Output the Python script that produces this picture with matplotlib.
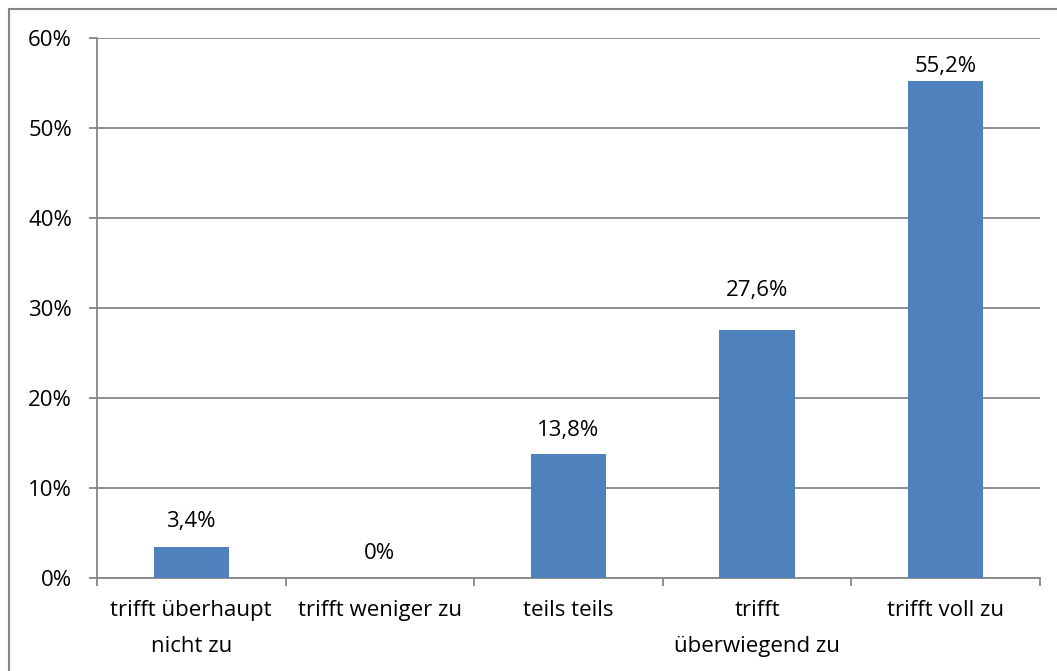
import matplotlib.pyplot as plt
from matplotlib.lines import Line2D
import numpy as np

categories = ['trifft überhaupt\nnicht zu', 'trifft weniger zu', 'teils teils',
              'trifft\nüberwiegend zu', 'trifft voll zu']
values = [3.4, 0.0, 13.8, 27.6, 55.2]
labels = ['3,4%', '0%', '13,8%', '27,6%', '55,2%']
yticks = [0, 10, 20, 30, 40, 50, 60]

plt.rcParams['font.family'] = ['Open Sans', 'DejaVu Sans']
grey = '#868686'
fs = 16

fig = plt.figure(figsize=(10.57, 6.71), dpi=100)
ax = fig.add_axes([97 / 1057, 1 - 578 / 671, (1040 - 97) / 1057, 540 / 671])

x = np.arange(len(categories))
ax.bar(x, values, width=0.4, color='#4F81BD', zorder=3)

# labels were nudged by hand in the original, so the gaps differ a bit
label_gap = [20, 19, 18, 34, 9]
for xi, v, lab, gap in zip(x, values, labels, label_gap):
    ax.annotate(lab, (xi, v), xytext=(0, gap), textcoords='offset pixels',
                ha='center', va='baseline', fontsize=fs)

ax.set_xlim(-0.5, len(categories) - 0.5)
ax.set_ylim(0, 60)
ax.set_yticks(yticks)
ax.set_yticklabels([f'{t}%' for t in yticks], fontsize=fs)
ax.yaxis.grid(True, color=grey, linewidth=1.3, zorder=0)
ax.tick_params(axis='y', length=6, width=1.3, color=grey, pad=12)

ax.set_xticks(np.arange(-0.5, len(categories)), minor=False)
ax.set_xticklabels([])
ax.set_xticks(x, minor=True)
ax.set_xticklabels(categories, minor=True, fontsize=fs, linespacing=1.9)
ax.tick_params(axis='x', which='major', length=6, width=1.3, color=grey, direction='out')
ax.tick_params(axis='x', which='minor', length=0, pad=16)

for side in ['top', 'right']:
    ax.spines[side].set_visible(False)
for side in ['left', 'bottom']:
    ax.spines[side].set_color(grey)
    ax.spines[side].set_linewidth(1.3)

# outer chart border (only top and left visible in the crop)
fig.add_artist(Line2D([9 / 1057, 1], [1 - 9 / 671] * 2, color=grey, linewidth=1.5,
                      transform=fig.transFigure))
fig.add_artist(Line2D([9 / 1057] * 2, [0, 1 - 9 / 671], color=grey, linewidth=1.5,
                      transform=fig.transFigure))

fig.savefig('out.png', dpi=100)
